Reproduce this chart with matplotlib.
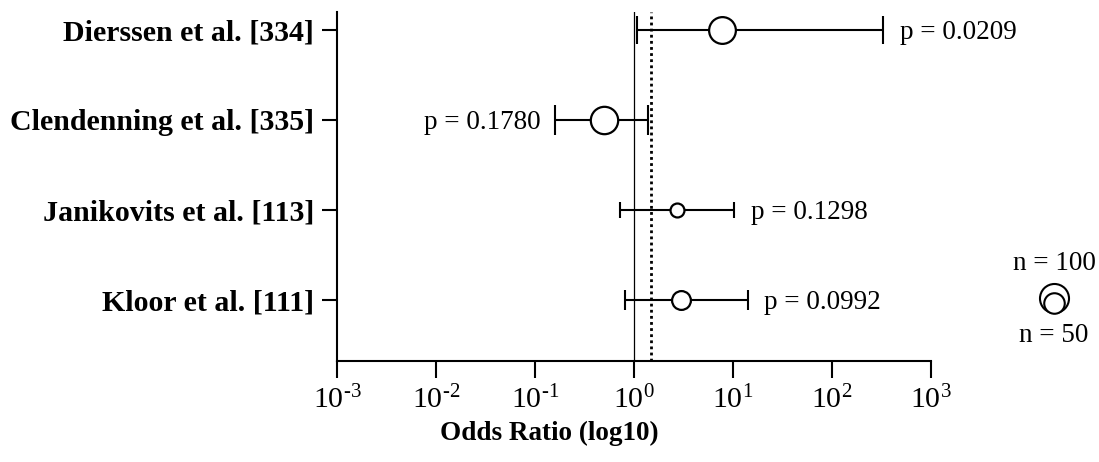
import numpy as np
import matplotlib.pyplot as plt

studies = ["Dierssen et al. [334]", "Clendenning et al. [335]",
           "Janikovits et al. [113]", "Kloor et al. [111]"]
odds = [7.7, 0.50, 2.7, 3.0]
ci_low = [1.07, 0.159, 0.73, 0.82]
ci_high = [327, 1.38, 10.3, 14.1]
n_size = [85, 89, 23, 42]
p_text = ["p = 0.0209", "p = 0.1780", "p = 0.1298", "p = 0.0992"]
pooled = 1.5
exponents = [-3, -2, -1, 0, 1, 2, 3]
leg_n = [100, 50]

plt.rcParams['font.family'] = ['Liberation Serif', 'DejaVu Serif']
plt.rcParams['mathtext.fontset'] = 'custom'
plt.rcParams['mathtext.rm'] = 'Liberation Serif'
plt.rcParams['mathtext.it'] = 'Liberation Serif:italic'
plt.rcParams['mathtext.bf'] = 'Liberation Serif:bold'

MS100 = 20.9  # marker diameter (pt) for n = 100, area ~ n

fig = plt.figure(figsize=(10.99, 4.62), dpi=100)
ax = fig.add_axes([337 / 1099, 1 - 361 / 462, (931 - 337) / 1099, (361 - 12) / 462])

ypos = np.arange(len(studies))[::-1] + 1
diam = MS100 * np.sqrt(np.array(n_size) / 100)

ax.axvline(1, color='black', lw=0.9, zorder=1)
ax.axvline(pooled, color='black', lw=2, ls=(0, (1, 1.2)), zorder=1)

for i, y in enumerate(ypos):
    ax.errorbar(odds[i], y,
                xerr=[[odds[i] - ci_low[i]], [ci_high[i] - odds[i]]],
                fmt='none', ecolor='black', elinewidth=1.5,
                capsize=diam[i] / 2 + 0.7, capthick=1.5, zorder=2)
    ax.plot(odds[i], y, 'o', ms=diam[i], mfc='white', mec='black',
            mew=1.6, zorder=3)
    if odds[i] < 1:
        ax.annotate(p_text[i], (ci_low[i], y), xytext=(-10, 0),
                    textcoords='offset points', ha='right',
                    va='center_baseline', fontsize=19.5)
    else:
        ax.annotate(p_text[i], (ci_high[i], y), xytext=(12, 0),
                    textcoords='offset points', ha='left',
                    va='center_baseline', fontsize=19.5)

ax.set_xscale('log')
ax.set_xlim(1e-3, 1e3)
ax.set_ylim(0.32, 4.2)
ax.set_xticks([10.0 ** e for e in exponents])
ax.set_xticklabels([r'$10^{\text{%d}}$' % e for e in exponents])
ax.minorticks_off()
ax.set_yticks(ypos)
ax.set_yticklabels(studies, fontweight='bold', fontsize=21.5)
ax.tick_params(axis='x', labelsize=21.5, length=12, width=1.5, pad=6)
ax.tick_params(axis='y', length=10.5, width=1.5, pad=6)
for s in ['top', 'right']:
    ax.spines[s].set_visible(False)
for s in ['left', 'bottom']:
    ax.spines[s].set_linewidth(1.5)
fig.text(0.5, 1 - 433 / 462, 'Odds Ratio (log10)', ha='center', va='center',
         fontsize=19.5, fontweight='bold')

# size legend
lax = fig.add_axes([1000 / 1099, 0, 99 / 1099, 1])
lax.set_xlim(1000, 1099)
lax.set_ylim(462, 0)
lax.axis('off')
bottom_px = 313
for n in leg_n:
    d_pt = MS100 * np.sqrt(n / 100)
    r_px = d_pt / 0.72 / 2
    lax.plot(1054, bottom_px - r_px, 'o', ms=d_pt, mfc='white', mec='black',
             mew=1.5)
lax.text(1054, 263, 'n = %d' % leg_n[0], ha='center', va='center', fontsize=19.5)
lax.text(1054, 336, 'n = %d' % leg_n[1], ha='center', va='center', fontsize=19.5)

fig.savefig('out.png', dpi=100)
